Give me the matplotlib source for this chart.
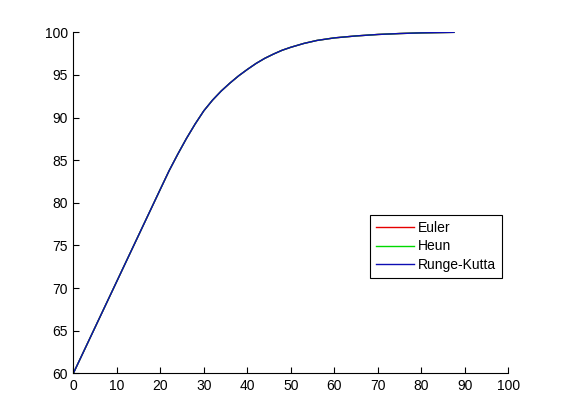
import matplotlib
matplotlib.use("Agg")
import matplotlib.pyplot as plt

# Data (all three methods coincide)
t = [0, 5, 10, 15, 20, 22, 24, 26, 28, 30, 32, 34, 36, 38, 40, 42, 44, 46,
     48, 50, 53, 56, 60, 65, 70, 75, 80, 85, 87.5]
euler = [60, 65.4, 70.8, 76.2, 81.6, 83.75, 85.7, 87.55, 89.25, 90.8, 92.05,
         93.12, 94.05, 94.9, 95.65, 96.35, 96.95, 97.45, 97.9, 98.25, 98.7,
         99.05, 99.35, 99.58, 99.75, 99.86, 99.94, 99.98, 100]
heun = list(euler)
runge_kutta = list(euler)
labels = ["Euler", "Heun", "Runge-Kutta"]
x_ticks = list(range(0, 101, 10))
y_ticks = list(range(60, 101, 5))

plt.rcParams['font.family'] = ['Liberation Sans', 'DejaVu Sans']

fig = plt.figure(figsize=(5.61, 4.2), dpi=100)
ax = fig.add_axes([0.1307, 0.111, 0.7755, 0.812])

ax.plot(t, euler, color=(0.9, 0, 0), lw=1.0, label=labels[0])
ax.plot(t, heun, color=(0, 0.85, 0), lw=1.0, label=labels[1])
ax.plot(t, runge_kutta, color=(0.05, 0.05, 0.7), lw=1.0, label=labels[2])

ax.set_xlim(0, 100)
ax.set_ylim(60, 100)
ax.set_xticks(x_ticks)
ax.set_yticks(y_ticks)
ax.spines['top'].set_visible(False)
ax.spines['right'].set_visible(False)
for s in ('left', 'bottom'):
    ax.spines[s].set_linewidth(0.8)
ax.tick_params(direction='in', length=4, width=0.8, labelsize=10, pad=4)

leg = ax.legend(loc='upper left', bbox_to_anchor=(370 / 561, 1 - 215 / 420),
                bbox_transform=fig.transFigure, fontsize=10, frameon=True,
                fancybox=False, shadow=False, handlelength=2.7,
                handletextpad=0.3, labelspacing=0.3, borderpad=0.45,
                borderaxespad=0)
leg.get_frame().set_edgecolor('black')
leg.get_frame().set_linewidth(0.8)
leg.get_frame().set_alpha(1)

fig.savefig("out.png", dpi=100, facecolor='white')
